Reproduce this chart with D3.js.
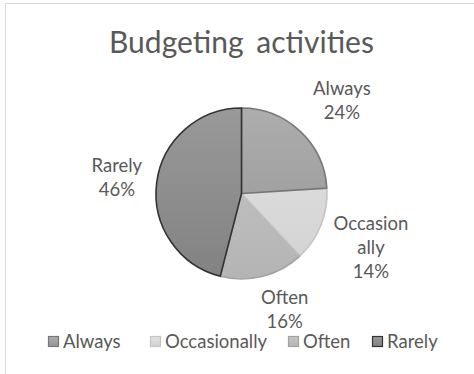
<!DOCTYPE html>
<html>
<head>
<meta charset="utf-8">
<script src="https://cdn.jsdelivr.net/npm/d3@7"></script>
<style>
  html, body { margin: 0; padding: 0; background: #fff; }
  svg { display: block; font-family: Lato, "Open Sans", sans-serif; }
</style>
</head>
<body>
<svg id="chart" width="474" height="374"></svg>
<script>
// Budgeting activities: share of respondents by frequency
const categories = ["Always", "Occasionally", "Often", "Rarely"];
const percents = [24, 14, 16, 46];
const chartTitle = "Budgeting activities";

// Fill shading (top/bottom of a soft vertical gradient) and slice outlines
const fillTop = ["#adadad", "#e2e2e2", "#c6c6c6", "#999999"];
const fillBottom = ["#959595", "#d2d2d2", "#b4b4b4", "#828282"];
const strokes = ["#777777", "#c4c4c4", "#a2a2a2", "#333333"];

const svg = d3.select("#chart");
const W = 474, H = 374;

// chart frame
svg.append("rect")
  .attr("x", 5.5).attr("y", 3.5)
  .attr("width", W).attr("height", H)
  .attr("fill", "#fff").attr("stroke", "#d9d9d9").attr("stroke-width", 1);

svg.append("text")
  .attr("x", 241.5).attr("y", 53)
  .attr("text-anchor", "middle")
  .attr("fill", "#595959")
  .attr("font-size", 30)
  .attr("word-spacing", 5)
  .text(chartTitle);

const cx = 241.5, cy = 193.5, R = 85.5;

const defs = svg.append("defs");
categories.forEach((c, i) => {
  const g = defs.append("linearGradient")
    .attr("id", "grad" + i)
    .attr("gradientUnits", "userSpaceOnUse")
    .attr("x1", 0).attr("y1", -R).attr("x2", 0).attr("y2", R);
  g.append("stop").attr("offset", "0%").attr("stop-color", fillTop[i]);
  g.append("stop").attr("offset", "100%").attr("stop-color", fillBottom[i]);
  const lg = defs.append("linearGradient")
    .attr("id", "lgrad" + i)
    .attr("x1", 0).attr("y1", 0).attr("x2", 0).attr("y2", 1);
  lg.append("stop").attr("offset", "0%").attr("stop-color", fillTop[i]);
  lg.append("stop").attr("offset", "100%").attr("stop-color", fillBottom[i]);
});

const data = categories.map((c, i) => ({ name: c, value: percents[i], i }));
const pie = d3.pie().value(d => d.value).sort(null);
const arcs = pie(data);
const arc = d3.arc().innerRadius(0).outerRadius(R);

const g = svg.append("g").attr("transform", `translate(${cx},${cy})`);

// light slices first, dark-outlined one last so its edge stays on top
const drawOrder = [2, 1, 0, 3];
g.selectAll("path.slice")
  .data(drawOrder.map(k => arcs[k]))
  .join("path")
  .attr("class", "slice")
  .attr("d", arc)
  .attr("fill", d => `url(#grad${d.data.i})`)
  .attr("stroke", d => strokes[d.data.i])
  .attr("stroke-width", 1.6)
  .attr("stroke-linejoin", "round");

// data labels: placed outside the pie along each slice's bisector
const labelLayout = [
  { dist: 1.60, dAngle: 4, lines: d => [d.data.name] },
  { dist: 1.64, dAngle: 1, lines: d => ["Occasion", "ally"] },
  { dist: 1.45, dAngle: -6, lines: d => [d.data.name] },
  { dist: 1.47, dAngle: 0, lines: d => [d.data.name] }
];
const lineH = 24;
arcs.forEach((a, k) => {
  const L = labelLayout[k];
  const mid = (a.startAngle + a.endAngle) / 2 + L.dAngle * Math.PI / 180;
  const x = Math.sin(mid) * R * L.dist;
  const y = -Math.cos(mid) * R * L.dist;
  const lines = L.lines(a).concat([a.data.value + "%"]);
  const t = g.append("text")
    .attr("text-anchor", "middle")
    .attr("fill", "#595959")
    .attr("font-size", 18.5);
  const y0 = y - (lines.length - 1) * lineH / 2;
  lines.forEach((s, j) => {
    t.append("tspan").attr("x", x).attr("y", y0 + j * lineH).attr("dy", "0.35em").text(s);
  });
});

// legend
const legendX = [48, 150, 288, 372];
const legend = svg.append("g");
categories.forEach((c, i) => {
  legend.append("rect")
    .attr("x", legendX[i] + 0.5).attr("y", 336.5)
    .attr("width", 10).attr("height", 10)
    .attr("fill", `url(#lgrad${i})`)
    .attr("stroke", strokes[i]).attr("stroke-width", 1.2);
  legend.append("text")
    .attr("x", legendX[i] + 15).attr("y", 342)
    .attr("dy", "0.35em")
    .attr("fill", "#595959")
    .attr("font-size", 18.5)
    .text(c);
});
</script>
</body>
</html>
